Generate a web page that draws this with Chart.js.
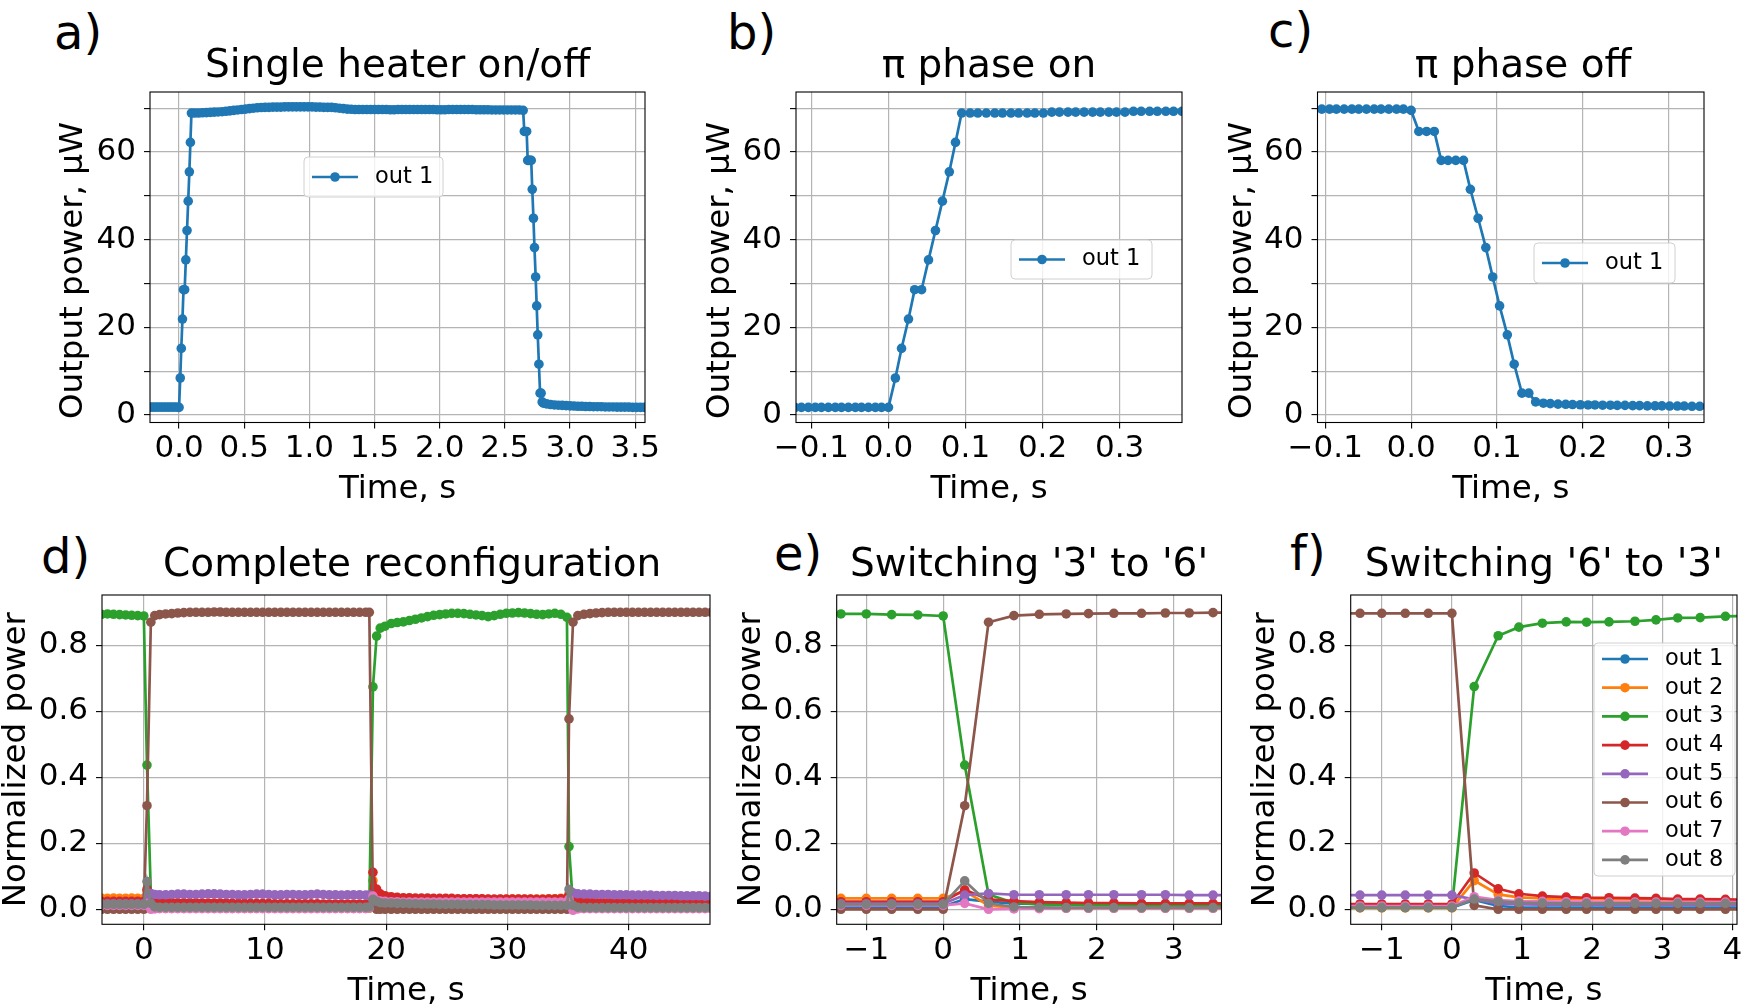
<!DOCTYPE html>
<html>
<head>
<meta charset="utf-8">
<script src="https://cdn.jsdelivr.net/npm/chart.js"></script>
<style>
  html, body { margin: 0; padding: 0; background: #fff; overflow: hidden; }
  #figure { position: relative; width: 1742px; height: 1006px; overflow: hidden; background: #fff; }
  #figure canvas { position: absolute; }
  .tag { position: absolute; font-family: 'DejaVu Sans', sans-serif; font-size: 48px; line-height: 1; color: #000; }
</style>
</head>
<body>
<div id="figure">
  <div class="tag" style="left:54px;top:8px">a)</div>
  <div class="tag" style="left:727px;top:8px">b)</div>
  <div class="tag" style="left:1268px;top:6px">c)</div>
  <div class="tag" style="left:41px;top:532px">d)</div>
  <div class="tag" style="left:774px;top:529px">e)</div>
  <div class="tag" style="left:1290px;top:529px">f)</div>
</div>
<script>
// ---- data ----

// a) single heater on/off, time in s, power in uW
const aTime = [
  -0.24,-0.22,-0.20,-0.18,-0.16,-0.14,-0.12,-0.10,-0.08,-0.06,-0.04,-0.02,0.0,
  0.009,0.017,0.026,0.034,0.043,0.052,0.061,0.070,0.079,0.087,0.095,
  0.12,0.15,0.18,0.21,0.24,0.27,0.30,0.33,0.36,0.39,0.42,0.45,0.48,0.51,0.54,0.57,0.60,0.63,0.66,0.69,
  0.72,0.75,0.78,0.81,0.84,0.87,0.90,0.93,0.96,0.99,1.02,1.05,1.08,1.11,1.14,1.17,1.20,1.23,1.26,1.29,
  1.32,1.35,1.38,1.41,1.44,1.47,1.50,1.53,1.56,1.59,1.62,1.65,1.68,1.71,1.74,1.77,1.80,1.83,1.86,1.89,
  1.92,1.95,1.98,2.01,2.04,2.07,2.10,2.13,2.16,2.19,2.22,2.25,2.28,2.31,2.34,2.37,2.40,2.43,2.46,2.49,
  2.52,2.55,2.58,2.61,
  2.640,2.649,2.658,2.667,2.675,2.684,2.693,2.702,2.710,2.719,2.727,2.736,2.744,2.752,2.761,2.770,2.778,2.786,2.795,
  2.82,2.85,2.88,2.91,2.94,2.97,3.00,3.03,3.06,3.09,3.12,3.15,3.18,3.21,3.24,3.27,3.30,3.33,3.36,3.39,
  3.42,3.45,3.48,3.51,3.54,3.57,3.60
];
const aPower = [
  1.8,1.8,1.8,1.8,1.8,1.8,1.8,1.8,1.8,1.8,1.8,1.8,1.75,
  8.45,15.2,21.9,28.6,28.6,35.4,42.1,48.8,55.5,62.2,68.9,
  68.9,68.9,68.95,69.0,69.05,69.1,69.15,69.2,69.3,69.4,69.5,69.6,69.7,69.8,69.9,70.0,70.1,70.15,70.2,70.2,
  70.25,70.25,70.25,70.3,70.3,70.3,70.3,70.3,70.3,70.3,70.3,70.25,70.25,70.2,70.2,70.2,70.1,70.0,69.9,69.8,
  69.75,69.7,69.7,69.7,69.7,69.7,69.7,69.7,69.7,69.7,69.65,69.65,69.7,69.7,69.7,69.7,69.7,69.7,69.7,69.7,
  69.7,69.7,69.65,69.65,69.65,69.7,69.7,69.7,69.7,69.7,69.7,69.7,69.65,69.65,69.65,69.65,69.6,69.6,69.6,69.6,
  69.6,69.6,69.6,69.6,
  69.5,64.7,64.7,64.7,58.1,58.1,58.1,58.1,51.5,44.9,38.2,31.5,24.9,18.3,11.6,5.0,5.0,3.0,2.7,
  2.55,2.4,2.3,2.25,2.2,2.15,2.1,2.05,2.0,2.0,1.95,1.95,1.9,1.9,1.9,1.85,1.85,1.85,1.8,1.8,
  1.8,1.8,1.75,1.75,1.75,1.75,1.75
];

// b) pi phase on
const bTime = [
  -0.130,-0.121,-0.113,-0.104,-0.095,-0.087,-0.078,-0.069,-0.061,-0.052,-0.043,-0.035,-0.026,-0.017,-0.009,0.000,
  0.009,0.017,0.026,0.034,0.043,0.052,0.061,0.070,0.079,0.087,0.095,
  0.106,0.116,0.127,0.138,0.148,0.159,0.169,0.180,0.190,0.201,
  0.212,0.222,0.233,0.243,0.254,0.265,0.275,0.286,0.296,0.307,
  0.318,0.328,0.339,0.349,0.360,0.370,0.381,0.392
];
const bPower = [
  1.75,1.75,1.75,1.75,1.75,1.75,1.75,1.75,1.75,1.75,1.75,1.75,1.75,1.75,1.75,1.75,
  8.45,15.2,21.9,28.6,28.6,35.4,42.1,48.8,55.5,62.2,68.9,
  68.9,68.9,68.9,68.9,68.9,68.9,68.9,68.9,68.9,68.9,
  69.1,69.1,69.1,69.1,69.1,69.1,69.1,69.1,69.1,69.1,
  69.3,69.3,69.3,69.3,69.3,69.3,69.3,69.3
];

// c) pi phase off
const cTime = [
  -0.122,-0.113,-0.104,-0.095,-0.087,-0.078,-0.069,-0.061,-0.052,-0.043,-0.035,-0.026,-0.017,-0.009,0.000,
  0.009,0.018,0.027,0.035,0.043,0.052,0.061,0.069,0.078,0.087,0.095,0.103,0.112,0.120,0.129,0.137,0.145,0.154,
  0.162,0.171,0.180,0.188,0.197,0.206,0.214,0.223,0.232,0.240,0.249,0.258,0.266,0.275,0.284,0.292,0.301,0.310,
  0.318,0.327,0.336,0.345,0.353
];
const cPower = [
  69.8,69.8,69.8,69.8,69.8,69.8,69.8,69.8,69.8,69.8,69.8,69.8,69.8,69.8,69.5,
  64.7,64.7,64.7,58.1,58.1,58.1,58.1,51.5,44.9,38.2,31.5,24.9,18.3,11.6,5.0,5.0,3.0,2.7,
  2.6,2.5,2.45,2.4,2.35,2.3,2.3,2.25,2.25,2.2,2.2,2.15,2.15,2.1,2.1,2.1,2.05,2.05,
  2.05,2.0,2.0,2.0,2.0
];

// d) complete reconfiguration, normalized power of outputs 1..8
const dTime = [
  -3.5,-3.0,-2.5,-2.0,-1.5,-1.0,-0.5,0.0,
  0.26,0.58,0.9,
  1.3,1.8,2.3,2.8,3.3,3.8,4.3,4.8,5.3,5.8,6.3,6.8,7.3,7.8,8.3,8.8,9.3,9.8,10.3,10.8,
  11.3,11.8,12.3,12.8,13.3,13.8,14.3,14.8,15.3,15.8,16.3,16.8,17.3,17.8,18.3,
  18.6,18.9,19.2,19.5,
  19.9,20.4,20.9,21.4,21.9,22.4,22.9,23.4,23.9,24.4,24.9,25.4,25.9,26.4,26.9,27.4,
  27.9,28.4,28.9,29.4,29.9,30.4,30.9,31.4,31.9,32.4,32.9,33.4,33.9,34.4,34.9,
  35.07,35.4,35.8,
  36.3,36.8,37.3,37.8,38.3,38.8,39.3,39.8,40.3,40.8,41.3,41.8,42.3,42.8,43.3,43.8,44.3,44.8,45.3,45.8,46.3,46.8
];
const dOut1 = [
  0.008,0.008,0.008,0.008,0.008,0.008,0.008,0.008,
  0.033,0.025,0.017,
  0.016,0.016,0.015,0.015,0.015,0.014,0.014,0.014,0.013,0.013,0.013,0.012,0.012,0.012,0.011,0.011,0.011,0.010,0.010,0.010,
  0.009,0.009,0.009,0.008,0.008,0.008,0.007,0.007,0.007,0.006,0.006,0.006,0.005,0.005,0.005,
  0.005,0.028,0.010,0.006,
  0.005,0.005,0.005,0.005,0.005,0.005,0.005,0.005,0.005,0.005,0.005,0.005,0.005,0.005,0.005,0.005,
  0.005,0.005,0.005,0.005,0.005,0.005,0.005,0.005,0.005,0.005,0.005,0.005,0.005,0.005,0.005,
  0.030,0.020,0.016,
  0.015,0.015,0.014,0.014,0.013,0.013,0.012,0.012,0.012,0.011,0.011,0.011,0.010,0.010,0.010,0.010,0.009,0.009,0.009,0.009,0.008,0.008
];
const dOut2 = [
  0.034,0.033,0.034,0.033,0.033,0.034,0.033,0.033,
  0.053,0.012,0.004,
  0.003,0.003,0.003,0.003,0.003,0.003,0.003,0.003,0.003,0.003,0.003,0.003,0.003,0.003,0.003,0.003,0.003,0.003,0.003,0.003,
  0.003,0.003,0.003,0.003,0.003,0.003,0.003,0.003,0.003,0.003,0.003,0.003,0.003,0.003,0.003,
  0.003,0.087,0.044,0.036,
  0.033,0.032,0.032,0.031,0.031,0.031,0.030,0.030,0.031,0.030,0.030,0.030,0.029,0.030,0.030,0.031,
  0.030,0.030,0.029,0.030,0.030,0.031,0.031,0.030,0.030,0.031,0.031,0.032,0.032,0.033,0.034,
  0.040,0.010,0.004,
  0.003,0.003,0.003,0.003,0.003,0.003,0.003,0.003,0.003,0.003,0.003,0.003,0.003,0.003,0.003,0.003,0.003,0.003,0.003,0.003,0.003,0.003
];
const dOut3 = [
  0.894,0.895,0.894,0.893,0.892,0.891,0.890,0.889,
  0.437,0.045,0.020,
  0.015,0.014,0.013,0.012,0.012,0.012,0.012,0.012,0.012,0.012,0.012,0.012,0.012,0.012,0.012,0.012,0.012,0.012,0.012,0.012,
  0.012,0.012,0.012,0.012,0.012,0.012,0.012,0.012,0.012,0.012,0.012,0.012,0.012,0.012,0.012,
  0.012,0.674,0.828,0.852,
  0.858,0.866,0.869,0.871,0.875,0.879,0.883,0.887,0.891,0.893,0.895,0.897,0.897,0.896,0.894,0.892,
  0.890,0.887,0.890,0.894,0.897,0.898,0.899,0.898,0.896,0.894,0.893,0.895,0.897,0.894,0.885,
  0.190,0.012,0.010,
  0.010,0.010,0.010,0.010,0.010,0.010,0.010,0.010,0.010,0.010,0.010,0.010,0.010,0.010,0.010,0.010,0.010,0.010,0.010,0.010,0.010,0.010
];
const dOut4 = [
  0.024,0.024,0.024,0.024,0.024,0.024,0.024,0.024,
  0.060,0.031,0.025,
  0.022,0.021,0.021,0.020,0.020,0.020,0.020,0.019,0.019,0.019,0.019,0.019,0.018,0.018,0.018,0.018,0.018,0.018,0.018,0.017,
  0.017,0.017,0.017,0.017,0.017,0.017,0.017,0.016,0.016,0.016,0.016,0.016,0.016,0.016,0.016,
  0.016,0.112,0.061,0.047,
  0.041,0.038,0.036,0.035,0.035,0.034,0.034,0.034,0.033,0.033,0.033,0.033,0.032,0.032,0.032,0.032,
  0.032,0.031,0.031,0.031,0.031,0.031,0.031,0.031,0.031,0.030,0.030,0.031,0.031,0.032,0.033,
  0.045,0.030,0.024,
  0.022,0.022,0.021,0.021,0.021,0.020,0.020,0.020,0.020,0.020,0.019,0.019,0.019,0.019,0.019,0.019,0.018,0.018,0.018,0.018,0.018,0.018
];
const dOut5 = [
  0.017,0.017,0.017,0.017,0.017,0.017,0.017,0.017,
  0.043,0.048,0.045,
  0.044,0.044,0.045,0.046,0.046,0.045,0.045,0.046,0.047,0.047,0.046,0.045,0.045,0.044,0.044,0.045,0.046,0.046,0.045,0.044,
  0.044,0.045,0.045,0.044,0.044,0.045,0.046,0.045,0.044,0.044,0.043,0.044,0.044,0.044,0.043,
  0.043,0.030,0.018,0.015,
  0.014,0.014,0.014,0.013,0.013,0.013,0.013,0.013,0.013,0.013,0.013,0.013,0.013,0.013,0.013,0.013,
  0.013,0.013,0.013,0.013,0.013,0.013,0.013,0.013,0.013,0.013,0.013,0.013,0.013,0.013,0.013,
  0.020,0.050,0.047,
  0.046,0.046,0.045,0.045,0.045,0.044,0.044,0.044,0.043,0.043,0.043,0.043,0.042,0.042,0.042,0.042,0.041,0.041,0.041,0.041,0.040,0.040
];
const dOut6 = [
  0,0,0,0,0,0,0,0,
  0.314,0.870,0.890,
  0.893,0.895,0.896,0.898,0.899,0.900,0.900,0.900,0.900,0.901,0.901,0.900,0.900,0.900,0.900,0.900,0.900,0.900,0.900,0.900,
  0.900,0.900,0.900,0.900,0.900,0.900,0.900,0.900,0.900,0.900,0.900,0.900,0.900,0.900,0.900,
  0.900,0.010,0.000,0.000,
  0,0,0,0,0,0,0,0,0,0,0,0,0,0,0,0,
  0,0,0,0,0,0,0,0,0,0,0,0,0,0,0,
  0.577,0.870,0.890,
  0.894,0.896,0.898,0.899,0.900,0.900,0.900,0.900,0.900,0.900,0.900,0.900,0.900,0.900,0.900,0.900,0.900,0.900,0.900,0.900,0.900,0.900
];
const dOut7 = [
  0.012,0.012,0.012,0.012,0.012,0.012,0.012,0.012,
  0.018,0.000,0.001,
  0.002,0.002,0.002,0.002,0.002,0.002,0.002,0.002,0.002,0.002,0.002,0.002,0.002,0.002,0.002,0.002,0.002,0.002,0.002,0.002,
  0.002,0.002,0.002,0.002,0.002,0.002,0.002,0.002,0.002,0.002,0.002,0.002,0.002,0.002,0.002,
  0.004,0.040,0.027,0.025,
  0.024,0.023,0.023,0.022,0.022,0.022,0.022,0.022,0.022,0.022,0.022,0.022,0.022,0.022,0.022,0.022,
  0.022,0.022,0.022,0.022,0.022,0.022,0.022,0.022,0.022,0.022,0.022,0.022,0.022,0.022,0.022,
  0.030,-0.003,0.001,
  0.002,0.002,0.002,0.002,0.002,0.002,0.002,0.002,0.002,0.002,0.002,0.002,0.002,0.002,0.002,0.002,0.002,0.002,0.002,0.002,0.002,0.002
];
const dOut8 = [
  0.015,0.015,0.015,0.015,0.015,0.015,0.015,0.015,
  0.084,0.018,0.007,
  0.006,0.006,0.006,0.006,0.006,0.006,0.006,0.006,0.006,0.006,0.006,0.006,0.006,0.006,0.006,0.006,0.006,0.006,0.006,0.006,
  0.006,0.006,0.006,0.006,0.006,0.006,0.006,0.006,0.006,0.006,0.006,0.006,0.006,0.006,0.006,
  0.007,0.030,0.024,0.020,
  0.019,0.019,0.018,0.018,0.017,0.017,0.016,0.016,0.016,0.015,0.015,0.015,0.015,0.014,0.014,0.014,
  0.014,0.014,0.013,0.013,0.013,0.013,0.013,0.013,0.013,0.012,0.012,0.012,0.012,0.012,0.012,
  0.060,0.012,0.006,
  0.005,0.005,0.005,0.005,0.005,0.005,0.005,0.005,0.005,0.005,0.005,0.005,0.005,0.005,0.005,0.005,0.005,0.005,0.005,0.005,0.005,0.005
];

// e) switching '3' to '6'
const eTime = [-1.66,-1.33,-1.00,-0.67,-0.33,0.00,0.28,0.59,0.92,1.25,1.60,1.89,2.22,2.58,2.89,3.20,3.51,3.84];
const eOut1 = [0.008,0.008,0.008,0.008,0.008,0.008,0.031,0.023,0.017,0.016,0.015,0.015,0.014,0.014,0.014,0.014,0.013,0.013];
const eOut2 = [0.033,0.033,0.033,0.033,0.033,0.033,0.055,0.012,0.004,0.003,0.003,0.003,0.003,0.003,0.003,0.003,0.003,0.003];
const eOut3 = [0.896,0.895,0.895,0.893,0.892,0.889,0.437,0.045,0.020,0.015,0.013,0.012,0.012,0.011,0.011,0.011,0.011,0.011];
const eOut4 = [0.023,0.023,0.023,0.023,0.023,0.023,0.059,0.030,0.025,0.022,0.020,0.019,0.019,0.018,0.018,0.018,0.018,0.018];
const eOut5 = [0.017,0.017,0.017,0.017,0.017,0.017,0.043,0.048,0.044,0.044,0.044,0.044,0.044,0.044,0.044,0.043,0.043,0.043];
const eOut6 = [0,0,0,0,0,0,0.314,0.870,0.890,0.894,0.895,0.896,0.897,0.897,0.898,0.898,0.899,0.899];
const eOut7 = [0.012,0.012,0.012,0.012,0.012,0.012,0.018,0.000,0.001,0.002,0.003,0.003,0.003,0.003,0.003,0.003,0.003,0.003];
const eOut8 = [0.015,0.015,0.015,0.015,0.015,0.015,0.086,0.018,0.007,0.006,0.005,0.005,0.005,0.005,0.005,0.005,0.005,0.005];

// f) switching '6' to '3'
const fTime = [-1.64,-1.31,-1.00,-0.665,-0.337,0.00,0.318,0.66,0.955,1.29,1.63,1.92,2.24,2.61,2.91,3.22,3.54,3.90,4.20];
const fOut1 = [0.005,0.005,0.005,0.005,0.005,0.005,0.028,0.010,0.006,0.005,0.005,0.005,0.005,0.005,0.005,0.005,0.005,0.005,0.005];
const fOut2 = [0.004,0.004,0.004,0.004,0.004,0.004,0.087,0.045,0.036,0.033,0.031,0.031,0.030,0.030,0.030,0.029,0.029,0.028,0.028];
const fOut3 = [0.006,0.006,0.006,0.006,0.006,0.006,0.675,0.829,0.855,0.867,0.871,0.870,0.871,0.873,0.877,0.883,0.884,0.888,0.889];
const fOut4 = [0.016,0.016,0.016,0.016,0.016,0.016,0.110,0.062,0.047,0.040,0.037,0.035,0.035,0.034,0.033,0.031,0.031,0.030,0.029];
const fOut5 = [0.043,0.043,0.043,0.043,0.043,0.043,0.030,0.018,0.015,0.014,0.014,0.014,0.013,0.013,0.013,0.013,0.013,0.013,0.013];
const fOut6 = [0.897,0.897,0.897,0.897,0.897,0.897,0.012,0,0,0,0,0,0,0,0,0,0,0,0];
const fOut7 = [0.010,0.010,0.010,0.010,0.010,0.010,0.038,0.028,0.025,0.024,0.023,0.023,0.022,0.022,0.022,0.022,0.022,0.022,0.022];
const fOut8 = [0.006,0.006,0.006,0.006,0.006,0.006,0.031,0.024,0.020,0.019,0.018,0.018,0.018,0.018,0.018,0.018,0.018,0.018,0.018];

// tick positions
const aXTicks = [0.0, 0.5, 1.0, 1.5, 2.0, 2.5, 3.0, 3.5];
const bcXTicks = [-0.1, 0.0, 0.1, 0.2, 0.3];
const powerTicks = [0, 10, 20, 30, 40, 50, 60, 70];
const dXTicks = [0, 10, 20, 30, 40];
const eXTicks = [-1, 0, 1, 2, 3];
const fXTicks = [-1, 0, 1, 2, 3, 4];
const normTicks = [0.0, 0.2, 0.4, 0.6, 0.8];

const outLabels = ['out 1', 'out 2', 'out 3', 'out 4', 'out 5', 'out 6', 'out 7', 'out 8'];
const outColors = ['#1f77b4', '#ff7f0e', '#2ca02c', '#d62728', '#9467bd', '#8c564b', '#e377c2', '#7f7f7f'];

// ---- drawing ----
Chart.defaults.font.family = "'DejaVu Sans', sans-serif";
Chart.defaults.color = '#000';

const LINE_W = 2.7;
const MARK_R = 4.8;
const TITLE_SIZE = 39;

function fmt(digits) {
  return function (v) {
    const s = Math.abs(v) < 1e-9 ? (0).toFixed(digits) : Number(v).toFixed(digits);
    return s.replace('-', '\u2212');
  };
}

function lineSet(idx, time, values) {
  const c = outColors[idx];
  return {
    label: outLabels[idx],
    data: time.map((t, i) => ({ x: t, y: values[i] })),
    borderColor: c,
    backgroundColor: c,
    pointBackgroundColor: c,
    borderWidth: LINE_W,
    pointRadius: MARK_R,
    pointHoverRadius: MARK_R,
    pointBorderWidth: 0,
    tension: 0,
    clip: 0,
    order: 8 - idx   // out 8 ends up on top, like matplotlib
  };
}

// spines on all four sides + matplotlib-like legend box
const panelDecor = {
  id: 'panelDecor',
  afterDatasetsDraw(chart, args, opts) {
    const { ctx, chartArea: a } = chart;
    ctx.save();
    ctx.strokeStyle = '#000';
    ctx.lineWidth = 1.1;
    ctx.strokeRect(a.left, a.top, a.right - a.left, a.bottom - a.top);

    const lg = opts.legend;
    if (lg) {
      const x0 = a.left + lg.dx, y0 = a.top + lg.dy, r = 4;
      ctx.beginPath();
      ctx.moveTo(x0 + r, y0);
      ctx.arcTo(x0 + lg.w, y0, x0 + lg.w, y0 + lg.h, r);
      ctx.arcTo(x0 + lg.w, y0 + lg.h, x0, y0 + lg.h, r);
      ctx.arcTo(x0, y0 + lg.h, x0, y0, r);
      ctx.arcTo(x0, y0, x0 + lg.w, y0, r);
      ctx.closePath();
      ctx.fillStyle = 'rgba(255,255,255,0.8)';
      ctx.fill();
      ctx.strokeStyle = '#d0d0d0';
      ctx.lineWidth = 1;
      ctx.stroke();

      const sets = chart.data.datasets.slice().sort((p, q) => outLabels.indexOf(p.label) - outLabels.indexOf(q.label));
      sets.forEach((ds, i) => {
        const cy = y0 + lg.first + i * lg.pitch;
        ctx.strokeStyle = ds.borderColor;
        ctx.lineWidth = LINE_W;
        ctx.beginPath();
        ctx.moveTo(x0 + 8, cy);
        ctx.lineTo(x0 + 54, cy);
        ctx.stroke();
        ctx.fillStyle = ds.borderColor;
        ctx.beginPath();
        ctx.arc(x0 + 31, cy, MARK_R, 0, Math.PI * 2);
        ctx.fill();
        ctx.fillStyle = '#000';
        ctx.font = "22.5px 'DejaVu Sans', sans-serif";
        ctx.textAlign = 'left';
        ctx.textBaseline = 'middle';
        ctx.fillText(ds.label, x0 + 71, cy);
      });
    }
    ctx.restore();
  }
};

function axis(cfg) {
  return {
    type: 'linear',
    min: cfg.min,
    max: cfg.max,
    bounds: 'data',
    border: { display: false },
    grid: { color: '#b4b4b4', lineWidth: 1.2, tickLength: 6, tickColor: '#000', tickWidth: 1.1 },
    ticks: { color: '#000', font: { size: 31 }, padding: cfg.pad, autoSkip: false, maxRotation: 0, callback: cfg.label },
    afterBuildTicks: (s) => { s.ticks = cfg.ticks.map(v => ({ value: v })); },
    afterFit: cfg.fit,
    title: { display: true, text: cfg.title, color: '#000', font: { size: 32.5, lineHeight: 1.2 }, padding: cfg.titlePad }
  };
}

function makePanel(p) {
  const fig = document.getElementById('figure');
  const cv = document.createElement('canvas');
  const w = Math.round(p.plot.r - p.left + 30);
  const h = Math.round(p.plot.b - p.top + p.xAxisH);
  cv.width = w; cv.height = h;
  cv.style.left = p.left + 'px'; cv.style.top = p.top + 'px';
  cv.style.width = w + 'px'; cv.style.height = h + 'px';
  fig.appendChild(cv);

  const titleBlock = p.plot.t - p.top;
  new Chart(cv, {
    type: 'line',
    data: { datasets: p.datasets },
    plugins: [panelDecor],
    options: {
      responsive: false,
      animation: false,
      devicePixelRatio: 1,
      layout: { padding: { left: 0, top: 0, bottom: 0, right: w - (p.plot.r - p.left) } },
      plugins: {
        legend: { display: false },
        tooltip: { enabled: false },
        title: {
          display: true, text: p.title, color: '#000', fullSize: false,
          font: { size: TITLE_SIZE, weight: 'normal', lineHeight: 1.2 },
          padding: { top: p.titleTop, bottom: titleBlock - TITLE_SIZE * 1.2 - p.titleTop }
        },
        panelDecor: { legend: p.legend }
      },
      scales: {
        x: axis({
          min: p.x[0], max: p.x[1], ticks: p.xTicks, label: p.xFmt, pad: 2,
          title: 'Time, s', titlePad: { top: 0, bottom: 0 },
          fit: (s) => { s.height = p.xAxisH; }
        }),
        y: axis({
          min: p.y[0], max: p.y[1], ticks: p.yTicks, label: p.yFmt, pad: 8,
          title: p.yTitle, titlePad: { top: p.yTitlePad, bottom: 0 },
          fit: (s) => { s.width = p.plot.l - p.left; }
        })
      }
    }
  });
}

const powerLabel = (v) => (Math.round(v) % 20 === 0 ? String(Math.round(v)) : '');
const powerTitle = 'Output power, \u03bcW\u2002 ';
const normTitle = 'Normalized power';

makePanel({
  left: 0, top: 0, plot: { l: 150, t: 92, r: 645, b: 422 }, xAxisH: 86.5, titleTop: 43.5, yTitlePad: 54.4,
  title: 'Single heater on/off', x: [-0.223, 3.575], y: [-1.7, 73.7],
  xTicks: aXTicks, xFmt: fmt(1), yTicks: powerTicks, yFmt: powerLabel, yTitle: powerTitle,
  datasets: [lineSet(0, aTime, aPower)],
  legend: { dx: 154, dy: 65, w: 139, h: 40, first: 20, pitch: 0 }
});
makePanel({
  left: 660, top: 0, plot: { l: 796, t: 92, r: 1182, b: 422 }, xAxisH: 86.5, titleTop: 43.5, yTitlePad: 41.1,
  title: '\u03c0 phase on', x: [-0.120, 0.381], y: [-1.7, 73.7],
  xTicks: bcXTicks, xFmt: fmt(1), yTicks: powerTicks, yFmt: powerLabel, yTitle: powerTitle,
  datasets: [lineSet(0, bTime, bPower)],
  legend: { dx: 215, dy: 148, w: 141, h: 39, first: 19.5, pitch: 0 }
});
makePanel({
  left: 1200, top: 0, plot: { l: 1317.5, t: 92, r: 1704, b: 422 }, xAxisH: 86.5, titleTop: 43.5, yTitlePad: 22.7,
  title: '  \u03c0 phase off', x: [-0.109, 0.341], y: [-1.7, 73.7],
  xTicks: bcXTicks, xFmt: fmt(1), yTicks: powerTicks, yFmt: powerLabel, yTitle: powerTitle,
  datasets: [lineSet(0, cTime, cPower)],
  legend: { dx: 216.5, dy: 151, w: 141, h: 40, first: 20, pitch: 0 }
});

const dSeries = [dOut1, dOut2, dOut3, dOut4, dOut5, dOut6, dOut7, dOut8];
const eSeries = [eOut1, eOut2, eOut3, eOut4, eOut5, eOut6, eOut7, eOut8];
const fSeries = [fOut1, fOut2, fOut3, fOut4, fOut5, fOut6, fOut7, fOut8];

makePanel({
  left: -20, top: 500, plot: { l: 102, t: 595, r: 710, b: 924.3 }, xAxisH: 86.7, titleTop: 42.2, yTitlePad: 16.6,
  title: ' Complete reconfiguration', x: [-3.45, 46.7], y: [-0.0455, 0.9525],
  xTicks: dXTicks, xFmt: fmt(0), yTicks: normTicks, yFmt: fmt(1), yTitle: normTitle,
  datasets: dSeries.map((vals, i) => lineSet(i, dTime, vals)),
  legend: null
});
makePanel({
  left: 720, top: 500, plot: { l: 836.7, t: 595, r: 1221.5, b: 924.3 }, xAxisH: 86.7, titleTop: 42.2, yTitlePad: 12.2,
  title: "Switching '3' to '6'", x: [-1.385, 3.62], y: [-0.0455, 0.9525],
  xTicks: eXTicks, xFmt: fmt(0), yTicks: normTicks, yFmt: fmt(1), yTitle: normTitle,
  datasets: eSeries.map((vals, i) => lineSet(i, eTime, vals)),
  legend: null
});
makePanel({
  left: 1230, top: 500, plot: { l: 1350.7, t: 595, r: 1737, b: 924.3 }, xAxisH: 86.7, titleTop: 42.2, yTitlePad: 16.3,
  title: "Switching '6' to '3'", x: [-1.443, 4.065], y: [-0.0455, 0.9525],
  xTicks: fXTicks, xFmt: fmt(0), yTicks: normTicks, yFmt: fmt(1), yTitle: normTitle,
  datasets: fSeries.map((vals, i) => lineSet(i, fTime, vals)),
  legend: { dx: 243.3, dy: 48, w: 141, h: 233, first: 16, pitch: 28.7 }
});
</script>
</body>
</html>
